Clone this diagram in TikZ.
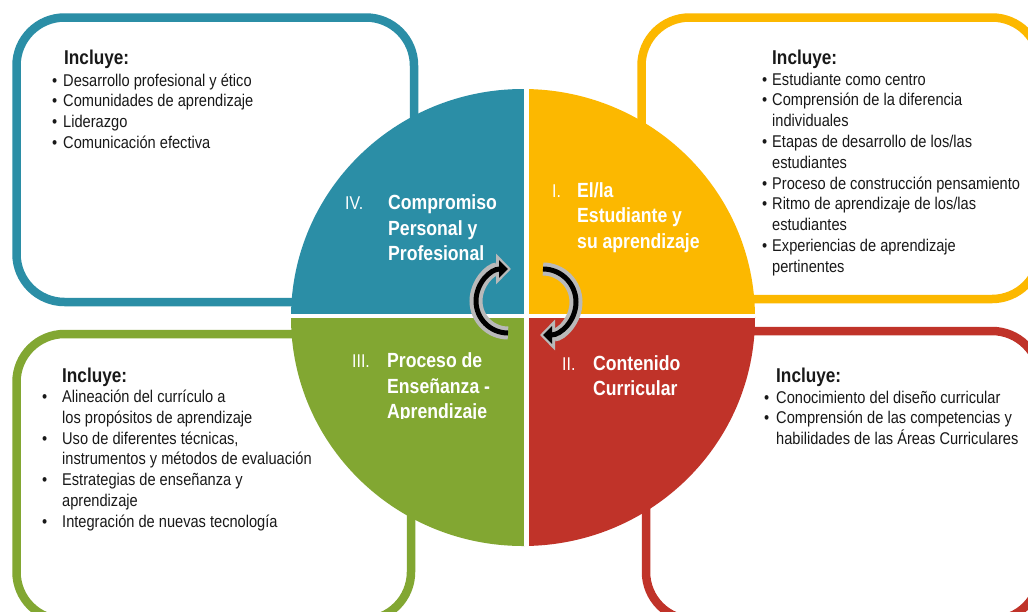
\documentclass[tikz,border=0pt]{standalone}
\usepackage{fontspec}
\setmainfont{Liberation Sans}[FakeStretch=0.86]
\usetikzlibrary{arrows.meta}

\definecolor{teal4}{RGB}{43,142,166}
\definecolor{gold1}{RGB}{252,184,0}
\definecolor{olive2}{RGB}{130,167,50}
\definecolor{brick3}{RGB}{192,51,41}
\definecolor{ink}{RGB}{25,25,25}

% bullet set in a box of fixed width, text column follows
\newcommand{\blt}[1]{\makebox[#1][l]{\textbullet}}

\begin{document}
\begin{tikzpicture}[x=1pt, y=-1pt,
    panel/.style={line width=8.5pt, rounded corners=48pt},
    incl/.style={anchor=base west, inner sep=0pt, text=ink,
                 font=\fontsize{20}{24}\selectfont\bfseries},
    list/.style={anchor=base west, inner sep=0pt, text=ink,
                 font=\fontsize{17}{20.8}\selectfont},
    num/.style={anchor=base west, inner sep=0pt, text=white,
                font=\fontsize{18.5}{20}\selectfont},
    title/.style={anchor=base west, inner sep=0pt, text=white,
                  font=\fontsize{20.5}{25.5}\selectfont\bfseries},
    cyc/.style={line width=13pt, draw=gray!55, shorten >=-3pt,
                -{Triangle[length=15pt, width=30pt]}},
    cyccore/.style={line width=5pt, draw=black,
                    -{Triangle[length=9pt, width=17pt]}}]
  \useasboundingbox (0,0) rectangle (1028,611);
  \fill[white] (0,0) rectangle (1028,611);

  % four frames behind the wheel
  \draw[panel, teal4]  (16.5,17.5) rectangle (414,302);
  \draw[panel, gold1]  (641.5,17.5) rectangle (1040,299);
  \draw[panel, olive2] (16.5,334) rectangle (411,620);
  \draw[panel, brick3] (646,331) rectangle (1040,620);

  % the wheel: four quarters split by a white cross
  \begin{scope}
    \clip (523,317.5) ellipse [x radius=232, y radius=228.5];
    \fill[teal4]  (280,80) rectangle (526.5,315.8);
    \fill[gold1]  (526.5,80) rectangle (770,315.8);
    \fill[olive2] (280,315.8) rectangle (526.5,560);
    \fill[brick3] (526.5,315.8) rectangle (770,560);
    \draw[white, line width=4.5pt] (526.5,80) -- (526.5,560);
    \draw[white, line width=4.5pt] (280,315.8) -- (770,315.8);
  \end{scope}

  % quarter titles
  \node[num]   (n4) at (345,209.5) {IV.};
  \node[title] (t4) at (388,209.5) {\begin{tabular}[t]{@{}l@{}}Compromiso\\Personal y\\Profesional\end{tabular}};
  \node[num]   (n1) at (552,197) {I.};
  \node[title] (t1) at (577,197) {\begin{tabular}[t]{@{}l@{}}El/la\\Estudiante y\\su aprendizaje\end{tabular}};
  \node[num]   (n3) at (352,367.5) {III.};
  \begin{scope}
    % label box cuts the last line
    \clip (380,340) rectangle (520,418);
    \node[title] (t3) at (387,367.5) {\begin{tabular}[t]{@{}l@{}}Proceso de\\Enseñanza -\\Aprendizaje\end{tabular}};
  \end{scope}
  \node[num]   (n2) at (562,370) {II.};
  \node[title] (t2) at (593,370) {\begin{tabular}[t]{@{}l@{}}Contenido\\Curricular\end{tabular}};

  % cycle arrows in the middle
  \draw[cyc]     (508,333) arc[start angle=90, end angle=270, radius=32];
  \draw[cyccore] (508,333) arc[start angle=90, end angle=270, radius=32];
  \draw[cyc]     (543,269) arc[start angle=-90, end angle=90, radius=33];
  \draw[cyccore] (543,269) arc[start angle=-90, end angle=90, radius=33];

  % lists
  \node[incl] (h4) at (64,64) {Incluye:};
  \node[list] (l4) at (52,86) {\begin{tabular}[t]{@{}l@{}l@{}}
    \blt{11pt} & Desarrollo profesional y ético\\
    \blt{11pt} & Comunidades de aprendizaje\\
    \blt{11pt} & Liderazgo\\
    \blt{11pt} & Comunicación efectiva
  \end{tabular}};

  \node[incl] (h1) at (772,64) {Incluye:};
  \node[list] (l1) at (762,85) {\begin{tabular}[t]{@{}l@{}l@{}}
    \blt{10pt} & Estudiante como centro\\
    \blt{10pt} & Comprensión de la diferencia\\
               & individuales\\
    \blt{10pt} & Etapas de desarrollo de los/las\\
               & estudiantes\\
    \blt{10pt} & Proceso de construcción pensamiento\\
    \blt{10pt} & Ritmo de aprendizaje de los/las\\
               & estudiantes\\
    \blt{10pt} & Experiencias de aprendizaje\\
               & pertinentes
  \end{tabular}};

  \node[incl] (h3) at (62,382) {Incluye:};
  \node[list] (l3) at (42,402.5) {\begin{tabular}[t]{@{}l@{}l@{}}
    \blt{20pt} & Alineación del currículo a\\
               & los propósitos de aprendizaje\\
    \blt{20pt} & Uso de diferentes técnicas,\\
               & instrumentos y métodos de evaluación\\
    \blt{20pt} & Estrategias de enseñanza y\\
               & aprendizaje\\
    \blt{20pt} & Integración de nuevas tecnología
  \end{tabular}};

  \node[incl] (h2) at (776,382) {Incluye:};
  \node[list] (l2) at (764,403) {\begin{tabular}[t]{@{}l@{}l@{}}
    \blt{12pt} & Conocimiento del diseño curricular\\
    \blt{12pt} & Comprensión de las competencias y\\
               & habilidades de las Áreas Curriculares
  \end{tabular}};
\end{tikzpicture}
\end{document}
